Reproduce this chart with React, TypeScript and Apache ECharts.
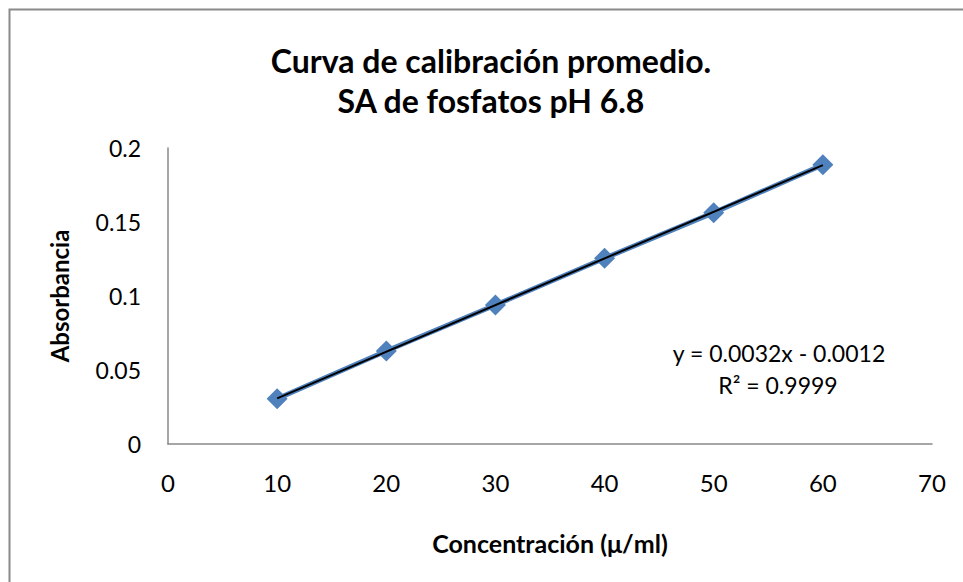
import React, { useEffect, useRef } from "react";
import * as echarts from "echarts";

const concentrations = [10, 20, 30, 40, 50, 60];
const absorbances = [0.0306, 0.0628, 0.0939, 0.1255, 0.1563, 0.1887];
const xTicks = [0, 10, 20, 30, 40, 50, 60, 70];
const yTicks = [0, 0.05, 0.1, 0.15, 0.2];
const titleLines = ["Curva de calibración promedio.", "SA de fosfatos pH 6.8"];
const equationLines = ["y = 0.0032x - 0.0012", "R² = 0.9999"];
const xAxisName = "Concentración (μ/ml)";
const yAxisName = "Absorbancia";

function fitLine(xs: number[], ys: number[]) {
  const n = xs.length;
  const mx = xs.reduce((a, b) => a + b, 0) / n;
  const my = ys.reduce((a, b) => a + b, 0) / n;
  let sxy = 0;
  let sxx = 0;
  for (let i = 0; i < n; i++) {
    sxy += (xs[i] - mx) * (ys[i] - my);
    sxx += (xs[i] - mx) * (xs[i] - mx);
  }
  const slope = sxy / sxx;
  return { slope, intercept: my - slope * mx };
}

const FONT = "Lato";

export default function App() {
  const ref = useRef<HTMLDivElement>(null);
  useEffect(() => {
    if (!ref.current) return;
    const chart = echarts.init(ref.current, null, { renderer: "svg" });
    const fit = fitLine(concentrations, absorbances);
    const xMin = concentrations[0];
    const xMax = concentrations[concentrations.length - 1];
    const trend = [
      [xMin, fit.slope * xMin + fit.intercept],
      [xMax, fit.slope * xMax + fit.intercept],
    ];
    chart.setOption({
      animation: false,
      backgroundColor: "#ffffff",
      textStyle: { fontFamily: FONT },
      grid: { left: 168, right: 31, top: 148, bottom: 138, containLabel: false },
      xAxis: {
        type: "value",
        min: xTicks[0],
        max: xTicks[xTicks.length - 1],
        interval: 10,
        axisLine: { show: true, lineStyle: { color: "#898989", width: 1.5 } },
        axisTick: { show: false },
        splitLine: { show: false },
        axisLabel: { color: "#000", fontSize: 24, fontFamily: FONT, margin: 26 },
        name: xAxisName,
        nameLocation: "middle",
        nameGap: 86,
        nameTextStyle: { color: "#000", fontSize: 25, fontWeight: "bold", fontFamily: FONT },
      },
      yAxis: {
        type: "value",
        min: yTicks[0],
        max: yTicks[yTicks.length - 1],
        interval: 0.05,
        axisLine: { show: true, lineStyle: { color: "#898989", width: 1.5 } },
        axisTick: { show: false },
        splitLine: { show: false },
        axisLabel: { color: "#000", fontSize: 23, fontFamily: FONT, margin: 27 },
        name: yAxisName,
        nameLocation: "middle",
        nameRotate: 90,
        nameGap: 97,
        nameTextStyle: { color: "#000", fontSize: 24, fontWeight: "bold", fontFamily: FONT },
      },
      series: [
        {
          type: "line",
          data: concentrations.map((x, i) => [x, absorbances[i]]),
          symbol: "diamond",
          symbolSize: 21,
          lineStyle: { color: "#4F81BD", width: 5 },
          itemStyle: { color: "#4F81BD" },
          z: 2,
        },
        {
          type: "line",
          data: trend,
          symbol: "none",
          lineStyle: { color: "#000000", width: 2 },
          z: 3,
        },
      ],
      graphic: [
        {
          type: "rect",
          shape: { x: 9.5, y: 9.5, width: 1000, height: 1000 },
          style: { fill: "none", stroke: "#8a8a8a", lineWidth: 2 },
          silent: true,
        },
        {
          type: "text",
          x: 491,
          y: 60,
          style: {
            text: titleLines[0],
            font: `bold 32px ${FONT}`,
            fill: "#000",
            align: "center",
            verticalAlign: "middle",
          },
        },
        {
          type: "text",
          x: 491,
          y: 100,
          style: {
            text: titleLines[1],
            font: `bold 32px ${FONT}`,
            fill: "#000",
            align: "center",
            verticalAlign: "middle",
          },
        },
        {
          type: "text",
          x: 779,
          y: 353,
          style: {
            text: equationLines[0],
            font: `23px ${FONT}`,
            fill: "#000",
            align: "center",
            verticalAlign: "middle",
          },
        },
        {
          type: "text",
          x: 778,
          y: 385,
          style: {
            text: equationLines[1],
            font: `23px ${FONT}`,
            fill: "#000",
            align: "center",
            verticalAlign: "middle",
          },
        },
      ],
    });
    return () => chart.dispose();
  }, []);
  return <div ref={ref} style={{ width: 963, height: 582, position: "absolute", left: 0, top: 0 }} />;
}
